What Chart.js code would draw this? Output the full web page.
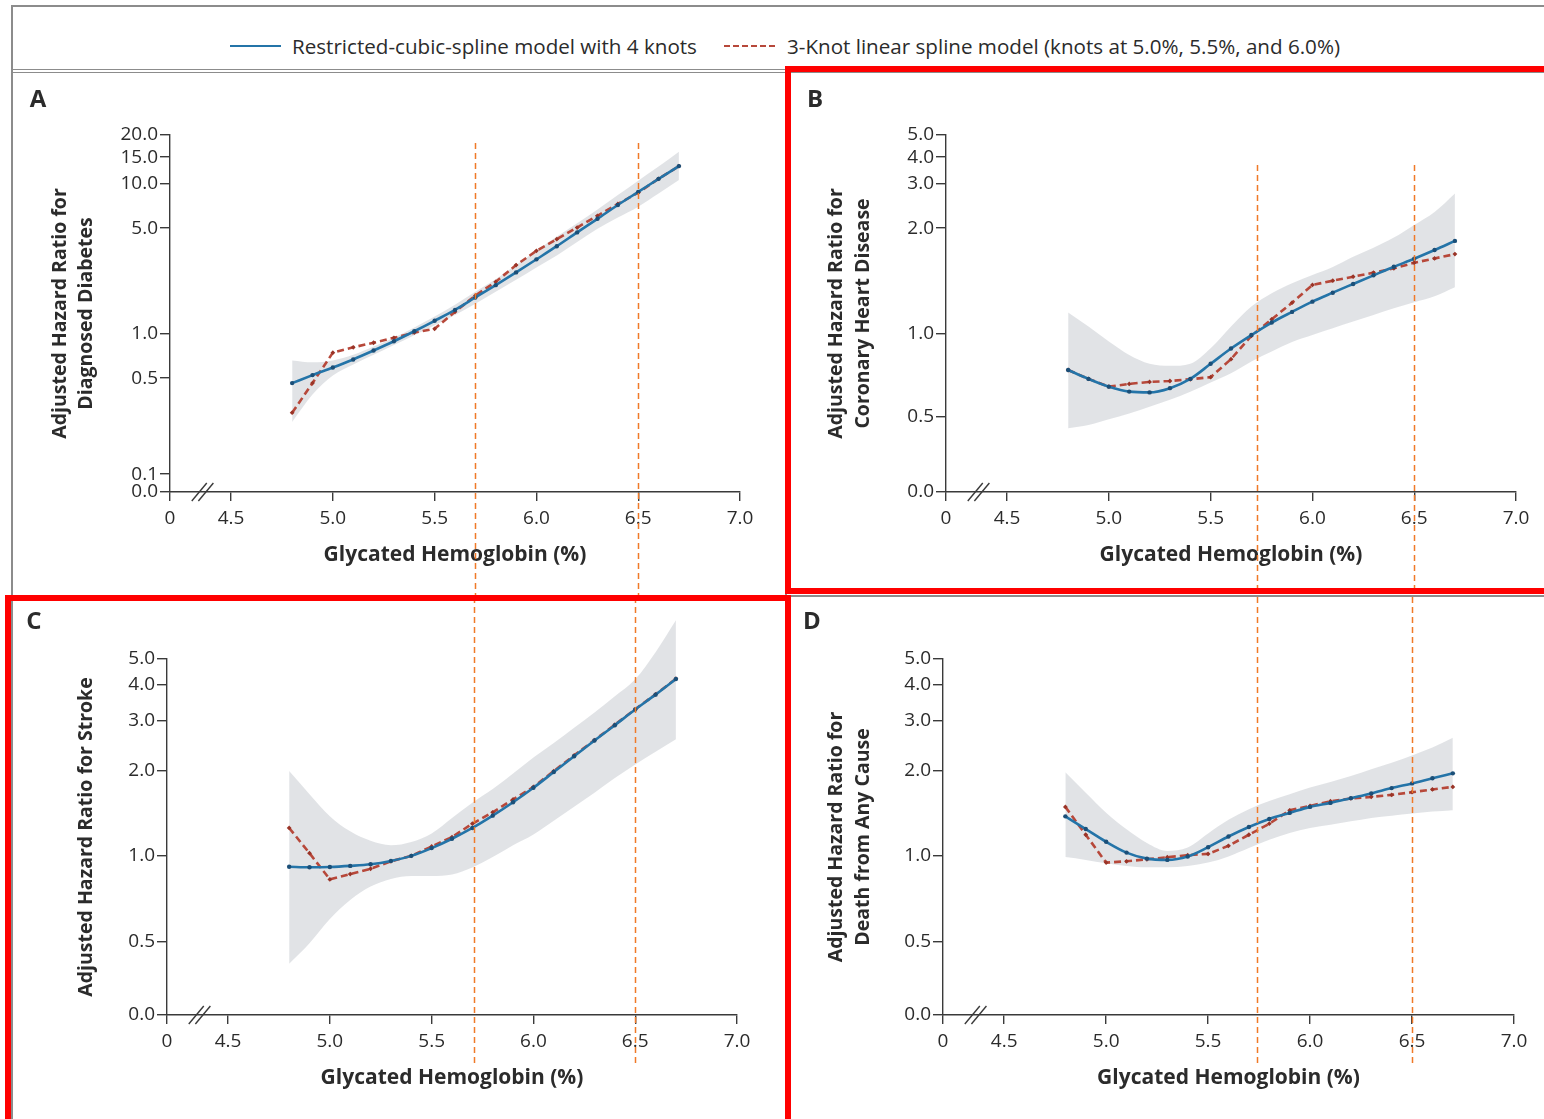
<!DOCTYPE html>
<html>
<head>
<meta charset="utf-8">
<title>Glycated hemoglobin and adjusted hazard ratios</title>
<script src="https://cdn.jsdelivr.net/npm/chart.js@4.4.1/dist/chart.umd.min.js"></script>
<style>
  html, body { margin: 0; padding: 0; background: #fff; }
  body { position: relative; width: 1544px; height: 1119px; overflow: hidden;
         font-family: "Open Sans", Lato, sans-serif; color: #2b2b2b; }
  .abs { position: absolute; }
  .rule { position: absolute; background: #8c8c8c; }
  .mark { position: absolute; border: 6px solid #ff0000; box-sizing: border-box; }
  .key { position: absolute; top: 33px; height: 26px; display: flex; align-items: center;
         font-size: 20.6px; white-space: nowrap; }
  .key .solid { width: 51px; height: 2.5px; background: #2474a8; margin-right: 11px; }
  .key .dashed { width: 54px; height: 2.5px; margin-right: 9px;
                 background: repeating-linear-gradient(to right, #b7483a 0 6px, transparent 6px 9px); }
</style>
</head>
<body>

<div class="rule" style="left:12px;top:5px;width:1532px;height:2px"></div>
<div class="rule" style="left:11px;top:5px;width:2px;height:1114px"></div>
<div class="rule" style="left:12px;top:69px;width:1532px;height:1px"></div>
<div class="rule" style="left:12px;top:72px;width:1532px;height:1px"></div>
<div class="rule" style="left:785px;top:72px;width:2px;height:1047px"></div>
<div class="rule" style="left:12px;top:595px;width:1532px;height:2px"></div>

<div class="key" style="left:230px"><span class="solid"></span><span>Restricted-cubic-spline model with 4 knots</span></div>
<div class="key" style="left:724px"><span class="dashed"></span><span>3-Knot linear spline model (knots at 5.0%, 5.5%, and 6.0%)</span></div>

<div class="abs" style="left:12px;top:73px;width:773px;height:522px"><canvas id="panelA"></canvas></div>
<div class="abs" style="left:787px;top:73px;width:757px;height:522px"><canvas id="panelB"></canvas></div>
<div class="abs" style="left:12px;top:597px;width:773px;height:522px"><canvas id="panelC"></canvas></div>
<div class="abs" style="left:787px;top:597px;width:757px;height:522px"><canvas id="panelD"></canvas></div>

<div class="mark" style="left:785px;top:66px;width:780px;height:528px;border-right:none"></div>
<div class="mark" style="left:5px;top:595px;width:786px;height:540px;border-bottom:none"></div>

<script>
// HbA1c grid shared by every panel
const hba1c = [4.8, 4.9, 5.0, 5.1, 5.2, 5.3, 5.4, 5.5, 5.6, 5.7, 5.8, 5.9, 6.0, 6.1, 6.2, 6.3, 6.4, 6.5, 6.6, 6.7];
const xTickValues = [4.2, 4.5, 5.0, 5.5, 6.0, 6.5, 7.0];
const xTickLabels = ['0', '4.5', '5.0', '5.5', '6.0', '6.5', '7.0'];

// A: diagnosed diabetes
const diabetesTicks = [0, 0.1, 0.5, 1, 5, 10, 15, 20];
const diabetesTickLabels = ['0.0', '0.1', '0.5', '1.0', '5.0', '10.0', '15.0', '20.0'];
const diabetesSpline = [0.46, 0.524, 0.59, 0.67, 0.77, 0.89, 1.04, 1.22, 1.44, 1.74, 2.10, 2.55, 3.11, 3.80, 4.69, 5.79, 7.19, 8.82, 10.8, 13.1];
const diabetesLinear = [0.28, 0.46, 0.745, 0.81, 0.87, 0.94, 1.02, 1.08, 1.40, 1.79, 2.21, 2.85, 3.54, 4.23, 5.05, 6.07, 7.3, 8.72, 10.8, 13.1];
const diabetesLower = [0.24, 0.38, 0.52, 0.62, 0.72, 0.84, 0.98, 1.14, 1.33, 1.58, 1.90, 2.28, 2.75, 3.3, 4.05, 4.95, 5.9, 7.0, 8.6, 10.6];
const diabetesUpper = [0.66, 0.64, 0.66, 0.72, 0.82, 0.94, 1.10, 1.30, 1.56, 1.90, 2.30, 2.85, 3.55, 4.4, 5.4, 6.7, 8.4, 10.5, 13.0, 16.1];

// B: coronary heart disease
const ratioTicks = [0, 0.5, 1, 2, 3, 4, 5];
const ratioTickLabels = ['0.0', '0.5', '1.0', '2.0', '3.0', '4.0', '5.0'];
const chdSpline = [0.74, 0.687, 0.644, 0.618, 0.614, 0.636, 0.687, 0.779, 0.885, 0.99, 1.077, 1.155, 1.235, 1.31, 1.387, 1.468, 1.553, 1.637, 1.733, 1.84];
const chdLinear = [0.74, 0.687, 0.644, 0.659, 0.67, 0.675, 0.685, 0.697, 0.81, 0.983, 1.10, 1.227, 1.378, 1.417, 1.455, 1.494, 1.537, 1.594, 1.64, 1.687];
const chdLower = [0.425, 0.447, 0.485, 0.515, 0.545, 0.577, 0.617, 0.667, 0.72, 0.795, 0.863, 0.934, 0.99, 1.037, 1.084, 1.132, 1.182, 1.23, 1.28, 1.357];
const chdUpper = [1.15, 1.049, 0.938, 0.839, 0.78, 0.766, 0.78, 0.887, 1.049, 1.196, 1.305, 1.393, 1.47, 1.55, 1.657, 1.76, 1.88, 2.06, 2.32, 2.75];

// C: stroke
const strokeSpline = [0.916, 0.912, 0.914, 0.922, 0.934, 0.96, 1.0, 1.065, 1.149, 1.254, 1.386, 1.545, 1.737, 1.974, 2.245, 2.55, 2.89, 3.28, 3.70, 4.21];
const strokeLinear = [1.254, 1.022, 0.827, 0.863, 0.901, 0.957, 1.0, 1.079, 1.165, 1.298, 1.424, 1.58, 1.75, 1.99, 2.26, 2.56, 2.90, 3.29, 3.71, 4.22];
const strokeLower = [0.349, 0.49, 0.60, 0.70, 0.78, 0.83, 0.85, 0.85, 0.86, 0.91, 0.99, 1.09, 1.19, 1.33, 1.49, 1.67, 1.88, 2.10, 2.33, 2.58];
const strokeUpper = [1.99, 1.65, 1.38, 1.22, 1.13, 1.09, 1.12, 1.20, 1.36, 1.54, 1.72, 1.95, 2.22, 2.5, 2.83, 3.2, 3.65, 4.2, 5.3, 6.97];

// D: death from any cause
const deathSpline = [1.378, 1.243, 1.121, 1.027, 0.978, 0.968, 0.995, 1.073, 1.17, 1.264, 1.349, 1.417, 1.488, 1.537, 1.597, 1.659, 1.733, 1.80, 1.876, 1.953];
const deathLinear = [1.488, 1.187, 0.947, 0.957, 0.973, 0.989, 1.006, 1.016, 1.085, 1.187, 1.298, 1.447, 1.50, 1.558, 1.593, 1.614, 1.64, 1.676, 1.714, 1.75];
const deathLower = [0.99, 0.968, 0.942, 0.922, 0.912, 0.912, 0.922, 0.947, 0.995, 1.065, 1.14, 1.204, 1.254, 1.288, 1.323, 1.361, 1.386, 1.409, 1.432, 1.448];
const deathUpper = [1.97, 1.67, 1.42, 1.24, 1.11, 1.04, 1.07, 1.20, 1.34, 1.46, 1.56, 1.65, 1.74, 1.82, 1.91, 2.02, 2.13, 2.26, 2.41, 2.61];

const FONT = '"Open Sans", Lato, sans-serif';
const TEXT = '#2b2b2b';
const AXIS = '#3a3a3a';
const BLUE = '#2474a8';
const BLUE_DOT = '#1b4f78';
const RED = '#b7483a';
const RED_DOT = '#9a3427';
const BAND = 'rgba(222, 224, 227, 0.9)';
const GUIDE = '#f07a28';
const AXIS_BREAK = 4.36;

// Ratio axis whose tick spacing is set per segment; values between ticks
// are placed on a log scale (linear in the segment that starts at zero).
class HazardScale extends Chart.LinearScale {
  static id = 'hazard';
  static defaults = {};

  determineDataLimits() {
    const a = this.options.anchors;
    this.min = a[0][0];
    this.max = a[a.length - 1][0];
  }

  buildTicks() {
    return this.options.anchors.map(a => ({ value: a[0] }));
  }

  toDecimal(v) {
    const a = this.options.anchors;
    let i = 1;
    while (i < a.length - 1 && v > a[i][0]) i++;
    const [v0, f0] = a[i - 1];
    const [v1, f1] = a[i];
    const t = v0 > 0 && v > 0 ? Math.log(v / v0) / Math.log(v1 / v0) : (v - v0) / (v1 - v0);
    return f0 + t * (f1 - f0);
  }

  getPixelForValue(v) {
    return v == null || isNaN(v) ? NaN : this.getPixelForDecimal(this.toDecimal(v));
  }

  getValueForPixel(px) {
    const d = this.getDecimalForPixel(px);
    const a = this.options.anchors;
    let i = 1;
    while (i < a.length - 1 && d > a[i][1]) i++;
    const [v0, f0] = a[i - 1];
    const [v1, f1] = a[i];
    const t = (d - f0) / (f1 - f0);
    return v0 > 0 ? v0 * Math.pow(v1 / v0, t) : v0 + t * (v1 - v0);
  }
}
Chart.register(HazardScale);

// knot guides, axis break marks and the panel letter
const decorations = {
  id: 'decorations',
  beforeDatasetsDraw(chart) {
    // let the confidence band run above the top tick like the lines do
    chart.$plotArea = chart.chartArea;
    chart.chartArea = Object.assign({}, chart.chartArea, { top: chart.chartArea.top - 80 });
  },
  afterDatasetsDraw(chart) {
    chart.chartArea = chart.$plotArea;
  },
  afterDraw(chart, args, o) {
    const { ctx, chartArea: area, scales: { x } } = chart;
    ctx.save();
    ctx.strokeStyle = GUIDE;
    ctx.lineWidth = 1.5;
    ctx.setLineDash([6, 4]);
    const top = o.guideTop == null ? 0 : area.top + o.guideTop;
    const bottom = o.guideBottom == null ? chart.height : area.bottom + o.guideBottom;
    o.guides.forEach(v => {
      const px = Math.round(x.getPixelForValue(v)) + 0.5;
      ctx.beginPath();
      ctx.moveTo(px, top);
      ctx.lineTo(px, bottom);
      ctx.stroke();
    });

    ctx.setLineDash([]);
    ctx.strokeStyle = AXIS;
    ctx.lineWidth = 1.4;
    const bx = x.getPixelForValue(AXIS_BREAK);
    const by = area.bottom;
    [-3.3, 3.3].forEach(d => {
      ctx.beginPath();
      ctx.moveTo(bx + d - 7.5, by + 9);
      ctx.lineTo(bx + d + 7.5, by - 9);
      ctx.stroke();
    });

    ctx.fillStyle = TEXT;
    ctx.font = 'bold 24px ' + FONT;
    ctx.textAlign = 'center';
    ctx.textBaseline = 'middle';
    ctx.fillText(o.letter, o.letterX, o.letterY);
    ctx.restore();
  }
};

const points = values => hba1c.map((x, i) => ({ x, y: values[i] }));

function drawPanel(id, p) {
  new Chart(document.getElementById(id), {
    type: 'line',
    data: {
      datasets: [
        { label: 'Spline model', data: points(p.spline), order: 0, clip: false,
          borderColor: BLUE, borderWidth: 2.6, cubicInterpolationMode: 'monotone',
          pointRadius: 2.2, pointBackgroundColor: BLUE_DOT, pointBorderWidth: 0 },
        { label: 'Linear spline model', data: points(p.linear), order: 1, clip: false,
          borderColor: RED, borderWidth: 2.6, borderDash: [7, 4],
          pointRadius: 2.4, pointStyle: 'rectRot', pointBackgroundColor: RED_DOT, pointBorderWidth: 0 },
        { label: 'Upper limit', data: points(p.upper), order: 2, clip: false, fill: '+1',
          backgroundColor: BAND, borderWidth: 0, pointRadius: 0, cubicInterpolationMode: 'monotone' },
        { label: 'Lower limit', data: points(p.lower), order: 3, clip: false, fill: false,
          borderWidth: 0, pointRadius: 0, cubicInterpolationMode: 'monotone' }
      ]
    },
    options: {
      responsive: true,
      maintainAspectRatio: false,
      animation: false,
      events: [],
      layout: { padding: { left: 0, top: p.padTop, right: p.padRight, bottom: 0 } },
      scales: {
        x: {
          type: 'linear',
          min: 4.2,
          max: 7.0,
          afterBuildTicks: s => { s.ticks = xTickValues.map(v => ({ value: v })); },
          afterFit: s => { s.height = p.xHeight; },
          grid: { drawOnChartArea: false, drawTicks: true, tickLength: 9, color: AXIS, lineWidth: 1.4 },
          border: { color: AXIS, width: 1.4 },
          ticks: { callback: (v, i) => xTickLabels[i], font: { family: FONT, size: 19 }, color: TEXT,
                   padding: 6, maxRotation: 0, autoSkip: false },
          title: { display: true, text: 'Glycated Hemoglobin (%)', color: TEXT,
                   font: { family: FONT, size: 21, weight: 'bold', lineHeight: 1.2 },
                   padding: { top: 0, bottom: p.xTitlePad } }
        },
        y: {
          type: 'hazard',
          anchors: p.ticks.map((v, i) => [v, p.tickPos[i]]),
          afterFit: s => { s.width = p.yWidth; },
          grid: { drawOnChartArea: false, drawTicks: true, tickLength: 10, color: AXIS, lineWidth: 1.4 },
          border: { color: AXIS, width: 1.4 },
          ticks: { callback: (v, i) => p.tickLabels[i], font: { family: FONT, size: 19 }, color: TEXT,
                   padding: 2, autoSkip: false },
          title: { display: true, text: p.yTitle, color: TEXT,
                   font: { family: FONT, size: 19.5, weight: 'bold', lineHeight: 1.38 },
                   padding: { top: p.yTitlePad, bottom: 0 } }
        }
      },
      plugins: {
        legend: { display: false },
        tooltip: { enabled: false },
        decorations: {
          letter: p.letter, letterX: p.letterX, letterY: p.letterY,
          guides: p.guides, guideTop: p.guideTop, guideBottom: p.guideBottom
        }
      }
    },
    plugins: [decorations]
  });
}

drawPanel('panelA', {
  letter: 'A', letterX: 26, letterY: 27,
  yTitle: ['Adjusted Hazard Ratio for', 'Diagnosed Diabetes'],
  ticks: diabetesTicks, tickLabels: diabetesTickLabels,
  tickPos: [0, 0.050, 0.319, 0.443, 0.739, 0.863, 0.938, 1],
  spline: diabetesSpline, linear: diabetesLinear, lower: diabetesLower, upper: diabetesUpper,
  padTop: 62, padRight: 45, yWidth: 158, xHeight: 103, yTitlePad: 34.5, xTitlePad: 27.5,
  guides: [5.7, 6.5], guideTop: 8, guideBottom: null
});

drawPanel('panelB', {
  letter: 'B', letterX: 28, letterY: 27,
  yTitle: ['Adjusted Hazard Ratio for', 'Coronary Heart Disease'],
  ticks: ratioTicks, tickLabels: ratioTickLabels,
  tickPos: [0, 0.210, 0.443, 0.739, 0.863, 0.938, 1],
  spline: chdSpline, linear: chdLinear, lower: chdLower, upper: chdUpper,
  padTop: 62, padRight: 28, yWidth: 159, xHeight: 103, yTitlePad: 36, xTitlePad: 27.5,
  guides: [5.73, 6.5], guideTop: 30, guideBottom: null
});

drawPanel('panelC', {
  letter: 'C', letterX: 22, letterY: 25,
  yTitle: 'Adjusted Hazard Ratio for Stroke',
  ticks: ratioTicks, tickLabels: ratioTickLabels,
  tickPos: [0, 0.206, 0.447, 0.687, 0.827, 0.927, 1],
  spline: strokeSpline, linear: strokeLinear, lower: strokeLower, upper: strokeUpper,
  padTop: 62, padRight: 48, yWidth: 155, xHeight: 104, yTitlePad: 60.5, xTitlePad: 28.5,
  guides: [5.71, 6.5], guideTop: null, guideBottom: 50
});

drawPanel('panelD', {
  letter: 'D', letterX: 25, letterY: 25,
  yTitle: ['Adjusted Hazard Ratio for', 'Death from Any Cause'],
  ticks: ratioTicks, tickLabels: ratioTickLabels,
  tickPos: [0, 0.206, 0.447, 0.687, 0.827, 0.927, 1],
  spline: deathSpline, linear: deathLinear, lower: deathLower, upper: deathUpper,
  padTop: 62, padRight: 30, yWidth: 156, xHeight: 104, yTitlePad: 36, xTitlePad: 28.5,
  guides: [5.74, 6.5], guideTop: null, guideBottom: 50
});
</script>
</body>
</html>
